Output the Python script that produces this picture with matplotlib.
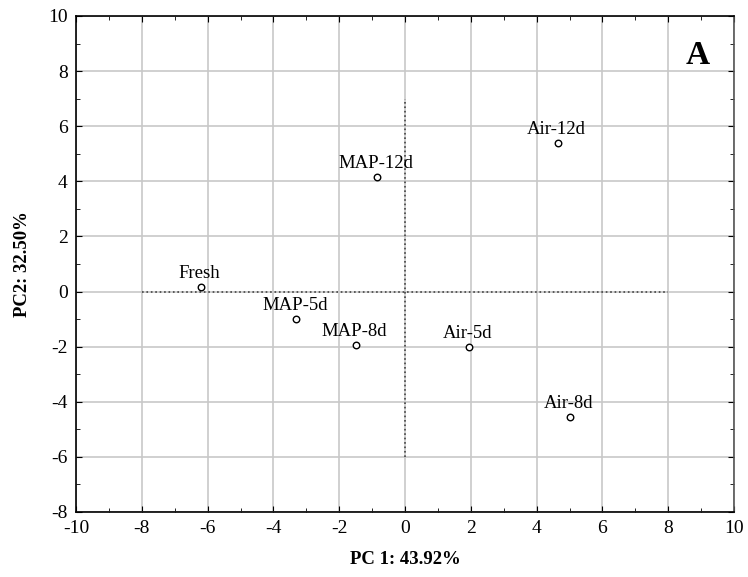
import numpy as np
import matplotlib.pyplot as plt
from matplotlib.ticker import MultipleLocator

plt.rcParams['font.family'] = ['Liberation Serif', 'DejaVu Serif']
plt.rcParams['axes.unicode_minus'] = False

# Scores PCA
labels = ["Fresh", "MAP-5d", "MAP-8d", "MAP-12d", "Air-5d", "Air-8d", "Air-12d"]
pc1 = [-6.2, -3.3, -1.5, -0.85, 1.95, 5.0, 4.65]
pc2 = [0.18, -0.98, -1.95, 4.17, -2.0, -4.55, 5.4]

fig = plt.figure(figsize=(7.48, 5.77), dpi=100)
ax = fig.add_axes([76/748, 65/577, 658/748, 496/577])

ax.set_xlim(-10, 10)
ax.set_ylim(-8, 10)
ax.xaxis.set_major_locator(MultipleLocator(2))
ax.xaxis.set_minor_locator(MultipleLocator(1))
ax.yaxis.set_major_locator(MultipleLocator(2))
ax.yaxis.set_minor_locator(MultipleLocator(1))
ax.grid(True, which='major', color='#c8c8c8', linewidth=1.2)
ax.set_axisbelow(True)
ax.tick_params(which='both', direction='in', top=True, right=True, labelsize=14)
ax.tick_params(which='major', length=4)
ax.tick_params(which='minor', length=3)
ax.tick_params(axis='both', which='major', pad=6)
for s in ax.spines.values():
    s.set_linewidth(1.2)
ax.spines['right'].set_color('#555555')

# assi dotted
ax.plot([-8, 8], [0, 0], color='#444444', linestyle=':', linewidth=1.2)
ax.plot([0, 0], [-6, 7], color='#444444', linestyle=':', linewidth=1.2)

ax.scatter(pc1, pc2, s=22, facecolors='white', edgecolors='black', linewidths=1, zorder=3)
for x, y, t in zip(pc1, pc2, labels):
    ax.annotate(t, (x, y), xytext=(-1, 3.5), textcoords='offset points',
                ha='center', va='bottom', fontsize=13.5)

ax.text(0.945, 0.92, "A", transform=ax.transAxes, fontsize=24, fontweight='bold',
        ha='center', va='center')

ax.set_xlabel("PC 1: 43.92%", fontsize=13.5, fontweight='bold', labelpad=10)
ax.set_ylabel("PC2: 32.50%", fontsize=13.5, fontweight='bold', labelpad=12)

plt.savefig("out.png", dpi=100)
